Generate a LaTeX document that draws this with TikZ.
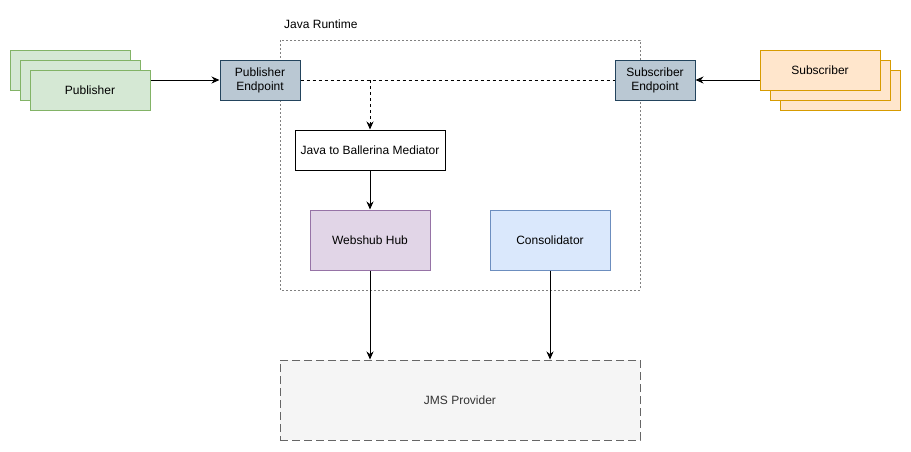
\documentclass[tikz,border=0pt]{standalone}
\usepackage{fontspec}
\setmainfont{Liberation Sans}
\usetikzlibrary{arrows.meta}

\definecolor{pubfill}{HTML}{D5E8D4}
\definecolor{pubdraw}{HTML}{82B366}
\definecolor{subfill}{HTML}{FFE6CC}
\definecolor{subdraw}{HTML}{D79B00}
\definecolor{epfill}{HTML}{BAC8D3}
\definecolor{epdraw}{HTML}{23445D}
\definecolor{hubfill}{HTML}{E1D5E7}
\definecolor{hubdraw}{HTML}{9673A6}
\definecolor{confill}{HTML}{DAE8FC}
\definecolor{condraw}{HTML}{6C8EBF}
\definecolor{jmsfill}{HTML}{F5F5F5}
\definecolor{jmsdraw}{HTML}{666666}

\begin{document}
\begin{tikzpicture}[x=1pt,y=-1pt,
  font=\fontsize{12}{14}\selectfont,
  box/.style={draw, line width=1pt, inner sep=0pt, align=center,
    minimum width=120pt, minimum height=40pt},
  pubbox/.style={box, fill=pubfill, draw=pubdraw},
  subbox/.style={box, fill=subfill, draw=subdraw},
  epbox/.style={box, fill=epfill, draw=epdraw, minimum width=80pt},
  link/.style={line width=1pt, -{Stealth[length=8pt,width=7pt]}},
  dlink/.style={link, dash pattern=on 3pt off 3pt}]

\useasboundingbox (0,0) rectangle (911,451);

% runtime container
\draw[gray, line width=0.8pt, dash pattern=on 2pt off 2pt] (280,40) rectangle (640,290);
\node[anchor=west, inner sep=0pt] (rtlabel) at (284,24) {Java Runtime};

% publishers
\node[pubbox] (pub3) at (70,70) {};
\node[pubbox] (pub2) at (80,80) {};
\node[pubbox] (pub) at (90,90) {Publisher};

% subscribers
\node[subbox] (sub3) at (840,90) {};
\node[subbox] (sub2) at (830,80) {};
\node[subbox] (sub) at (820,70) {Subscriber};

% endpoints
\node[epbox] (pubep) at (260,80) {Publisher\\Endpoint};
\node[epbox] (subep) at (655,80) {Subscriber\\Endpoint};

\node[box, fill=white, minimum width=150pt] (med) at (370,150) {Java to Ballerina Mediator};
\node[box, fill=hubfill, draw=hubdraw, minimum height=60pt] (hub) at (370,240) {Webshub Hub};
\node[box, fill=confill, draw=condraw, minimum height=60pt] (con) at (550,240) {Consolidator};

\node[box, fill=jmsfill, draw=jmsdraw, text=black!80, minimum width=360pt,
  minimum height=80pt, dash pattern=on 8pt off 4pt] (jms) at (460,400) {JMS Provider};

\coordinate (split) at (pubep.east -| med.north);

\draw[link] (pub.east |- pubep.west) -- (pubep.west);
\draw[link] (sub.west |- subep.east) -- (subep.east);
\draw[line width=1pt, dash pattern=on 3pt off 3pt] (pubep.east) -- (subep.west);
\draw[dlink] (split) -- (med.north);
\draw[link] (med.south) -- (hub.north);
\draw[link] (hub.south) -- (hub.south |- jms.north);
\draw[link] (con.south) -- (con.south |- jms.north);

\end{tikzpicture}
\end{document}
